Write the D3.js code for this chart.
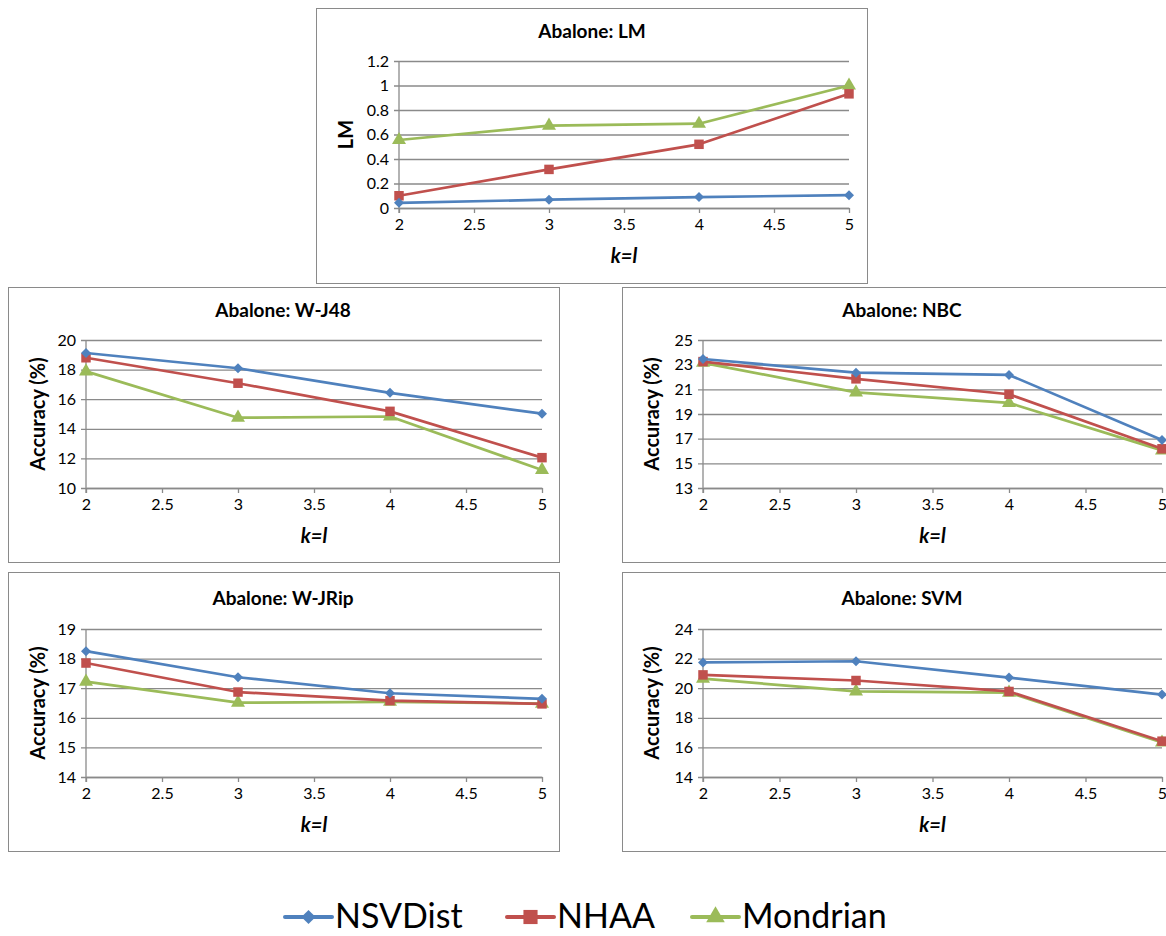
<!DOCTYPE html>
<html>
<head>
<meta charset="utf-8">
<script src="https://cdn.jsdelivr.net/npm/d3@7"></script>
<style>
  html, body { margin: 0; padding: 0; background: #ffffff; }
  svg { display: block; }
  text { font-family: Lato, Carlito, "Open Sans", sans-serif; fill: #000; }
</style>
</head>
<body>
<svg id="chart" width="1166" height="936"></svg>
<script>
// ---- data ----
const kValues = [2, 3, 4, 5];
const xTicks = [2, 2.5, 3, 3.5, 4, 4.5, 5];
const seriesNames = ["NSVDist", "NHAA", "Mondrian"];
const seriesColors = ["#4F81BD", "#C0504D", "#9BBB59"];

const lmTicks = [0, 0.2, 0.4, 0.6, 0.8, 1, 1.2];
const lmNSVDist = [0.042, 0.068, 0.089, 0.105];
const lmNHAA = [0.10, 0.315, 0.52, 0.932];
const lmMondrian = [0.555, 0.672, 0.688, 1.0];

const j48Ticks = [10, 12, 14, 16, 18, 20];
const j48NSVDist = [19.12, 18.09, 16.43, 15.02];
const j48NHAA = [18.8, 17.08, 15.18, 12.05];
const j48Mondrian = [17.88, 14.75, 14.83, 11.22];

const nbcTicks = [13, 15, 17, 19, 21, 23, 25];
const nbcNSVDist = [23.46, 22.35, 22.17, 16.89];
const nbcNHAA = [23.25, 21.85, 20.6, 16.18];
const nbcMondrian = [23.15, 20.75, 19.9, 16.05];

const jripTicks = [14, 15, 16, 17, 18, 19];
const jripNSVDist = [18.25, 17.37, 16.83, 16.64];
const jripNHAA = [17.85, 16.87, 16.58, 16.47];
const jripMondrian = [17.22, 16.51, 16.54, 16.48];

const svmTicks = [14, 16, 18, 20, 22, 24];
const svmNSVDist = [21.74, 21.82, 20.72, 19.57];
const svmNHAA = [20.9, 20.52, 19.78, 16.42];
const svmMondrian = [20.65, 19.78, 19.7, 16.33];

// ---- layout ----
const svg = d3.select("#chart");
const gridColor = "#8a8a8a";
const fmt = d => String(+d.toFixed(2));
const tickFont = 16;

function markerPath(s, size) {
  if (s === 2) return d3.symbol().type(d3.symbolTriangle).size(size)();
  return d3.symbol().type(d3.symbolSquare).size(size)();
}

function drawChart(cfg) {
  const g = svg.append("g").attr("transform", `translate(${cfg.bx},${cfg.by})`);
  g.append("rect")
    .attr("x", 0.5).attr("y", 0.5)
    .attr("width", cfg.bw).attr("height", cfg.bh)
    .attr("fill", "#fff").attr("stroke", "#8a8a8a").attr("stroke-width", 1);

  const x = d3.scaleLinear().domain([2, 5]).range([cfg.pl, cfg.pr]);
  const y = d3.scaleLinear().domain(d3.extent(cfg.yTicks)).range([cfg.pb, cfg.pt]);

  // title (centred on the chart box)
  g.append("text")
    .attr("x", cfg.titleX).attr("y", cfg.titleY)
    .attr("text-anchor", "middle")
    .attr("font-size", 19).attr("font-weight", "bold")
    .text(cfg.title);

  // y gridlines + axis
  const yAxis = d3.axisLeft(y).tickValues(cfg.yTicks).tickSize(-(cfg.pr - cfg.pl)).tickSizeOuter(0).tickPadding(10).tickFormat(fmt);
  const ya = g.append("g").attr("transform", `translate(${cfg.pl},0)`).call(yAxis);
  ya.select(".domain").remove();
  ya.selectAll(".tick line").attr("stroke", gridColor).attr("stroke-width", 1.3).attr("x1", -5);
  ya.selectAll(".tick text").attr("font-size", tickFont).attr("font-family", "Lato, Carlito, sans-serif").attr("fill", "#000");

  // x axis
  const xAxis = d3.axisBottom(x).tickValues(xTicks).tickSize(5).tickSizeOuter(0).tickPadding(6).tickFormat(fmt);
  const xa = g.append("g").attr("transform", `translate(0,${cfg.pb})`).call(xAxis);
  xa.select(".domain").attr("stroke", gridColor).attr("stroke-width", 1.3);
  xa.selectAll(".tick line").attr("stroke", gridColor).attr("stroke-width", 1.3);
  xa.selectAll(".tick text").attr("font-size", tickFont).attr("font-family", "Lato, Carlito, sans-serif").attr("fill", "#000");

  // y axis line
  g.append("line")
    .attr("x1", cfg.pl).attr("x2", cfg.pl).attr("y1", cfg.pt).attr("y2", cfg.pb + 5)
    .attr("stroke", gridColor).attr("stroke-width", 1.3);

  // axis titles
  g.append("text")
    .attr("x", (cfg.pl + cfg.pr) / 2).attr("y", cfg.pb + 55)
    .attr("text-anchor", "middle")
    .attr("font-size", 20).attr("font-weight", "bold").attr("font-style", "italic")
    .text("k=l");
  g.append("text")
    .attr("transform", `translate(${cfg.yTitleX},${(cfg.pt + cfg.pb) / 2}) rotate(-90)`)
    .attr("text-anchor", "middle")
    .attr("font-size", 20).attr("font-weight", "bold")
    .text(cfg.yTitle);

  // series (drawn in reverse so NHAA sits above Mondrian)
  const line = d3.line().x((d, i) => x(kValues[i])).y(d => y(d));
  const sizes = [50, 90, 85];
  for (let s = cfg.series.length - 1; s >= 0; s--) {
    const vals = cfg.series[s];
    g.append("path").datum(vals)
      .attr("d", line).attr("fill", "none")
      .attr("stroke", seriesColors[s]).attr("stroke-width", 2.7)
      .attr("stroke-linejoin", "round");
    g.selectAll(null).data(vals).enter().append("path")
      .attr("d", markerPath(s, sizes[s]))
      .attr("transform", (d, i) => `translate(${x(kValues[i])},${y(d)})` + (s === 0 ? " rotate(45)" : ""))
      .attr("fill", seriesColors[s]);
  }
}

const charts = [
  { bx: 316, by: 8, bw: 551, bh: 275, pl: 83, pr: 533, pt: 53, pb: 200, titleX: 276, titleY: 30, yTitleX: 37,
    title: "Abalone: LM", yTitle: "LM", yTicks: lmTicks, series: [lmNSVDist, lmNHAA, lmMondrian] },
  { bx: 8, by: 287, bw: 551, bh: 275, pl: 78, pr: 534, pt: 53, pb: 201, titleX: 275, titleY: 30, yTitleX: 37,
    title: "Abalone: W-J48", yTitle: "Accuracy (%)", yTicks: j48Ticks, series: [j48NSVDist, j48NHAA, j48Mondrian] },
  { bx: 622, by: 287, bw: 551, bh: 275, pl: 81, pr: 540, pt: 53, pb: 201, titleX: 280, titleY: 30, yTitleX: 37,
    title: "Abalone: NBC", yTitle: "Accuracy (%)", yTicks: nbcTicks, series: [nbcNSVDist, nbcNHAA, nbcMondrian] },
  { bx: 8, by: 572, bw: 551, bh: 279, pl: 78, pr: 534, pt: 57, pb: 205, titleX: 275, titleY: 33, yTitleX: 37,
    title: "Abalone: W-JRip", yTitle: "Accuracy (%)", yTicks: jripTicks, series: [jripNSVDist, jripNHAA, jripMondrian] },
  { bx: 622, by: 572, bw: 551, bh: 279, pl: 81, pr: 540, pt: 57, pb: 205, titleX: 280, titleY: 33, yTitleX: 37,
    title: "Abalone: SVM", yTitle: "Accuracy (%)", yTicks: svmTicks, series: [svmNSVDist, svmNHAA, svmMondrian] }
];
charts.forEach(drawChart);

// ---- legend ----
const legendX = [285, 507, 692];
const legendY = 917;
const lg = svg.append("g");
const lsizes = [100, 200, 150];
seriesNames.forEach((name, s) => {
  const x0 = legendX[s];
  lg.append("line").attr("x1", x0).attr("x2", x0 + 47).attr("y1", legendY).attr("y2", legendY)
    .attr("stroke", seriesColors[s]).attr("stroke-width", 4).attr("stroke-linecap", "round");
  lg.append("path").attr("d", markerPath(s, lsizes[s]))
    .attr("transform", `translate(${x0 + 23.5},${legendY})` + (s === 0 ? " rotate(45)" : ""))
    .attr("fill", seriesColors[s]);
  lg.append("text").attr("x", x0 + 50).attr("y", legendY + 11)
    .attr("font-size", 34).text(name);
});
</script>
</body>
</html>
